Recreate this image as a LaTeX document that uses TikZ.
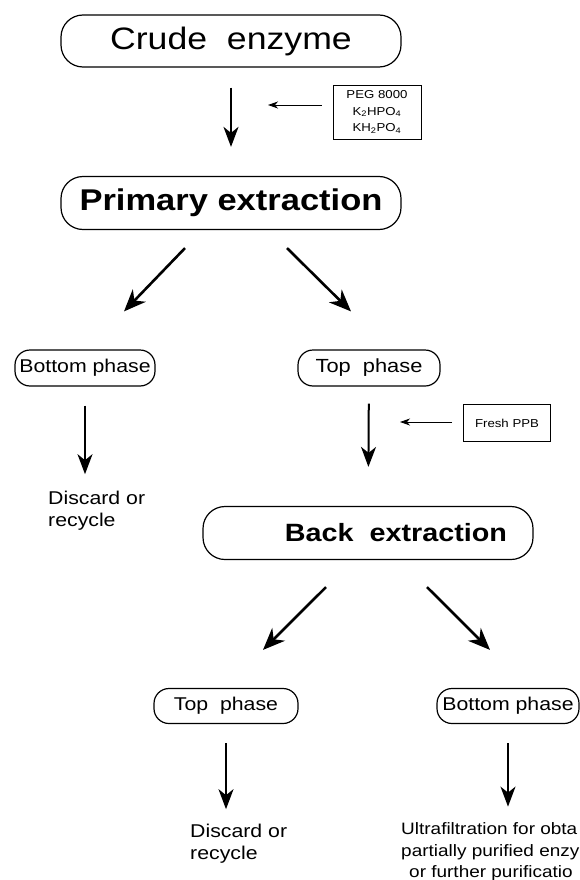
\documentclass[tikz,border=0pt]{standalone}
\usepackage{fontspec}
\setmainfont{Liberation Sans}
\newfontfamily\figfont[FakeStretch=1.15]{Liberation Sans}
\usetikzlibrary{arrows.meta}
\tikzset{
  pill/.style={draw, line width=1.2pt, rounded corners=#1, inner sep=0pt},
  addbox/.style={draw, line width=0.9pt, inner sep=0pt, align=center},
  note/.style={inner sep=0pt, align=left, anchor=west},
  bigarrow/.style={line width=2pt, -{Stealth[length=20pt,width=15pt,inset=6pt]}},
  diagarrow/.style={line width=2.6pt, -{Stealth[length=22pt,width=18pt,inset=7pt]}},
  thinarrow/.style={line width=0.9pt, -{Stealth[length=10pt,width=7pt,inset=3pt]}}
}

\begin{document}
\begin{tikzpicture}[x=1pt,y=-1pt]
	\useasboundingbox (0,0) rectangle (580,880);
	\clip (0,0) rectangle (580,880);

	\node[pill=22pt, minimum width=340pt, minimum height=52pt, font={\figfont\fontsize{31}{36}\selectfont}] (crude) at (231,41) {Crude\ \ enzyme};
	\node[pill=22pt, minimum width=340pt, minimum height=53pt, font={\figfont\bfseries\fontsize{30}{36}\selectfont}] (primary) at (231,203) {Primary extraction};
	\node[addbox, minimum width=88pt, minimum height=54pt, font={\figfont\fontsize{11.5}{16.5}\selectfont}] (peg) at (377,112) {PEG 8000\\K\textsubscript{2}HPO\textsubscript{4}\\KH\textsubscript{2}PO\textsubscript{4}};
	\coordinate (pegin) at (268,105);

	\node[pill=15pt, minimum width=140pt, minimum height=36pt, font={\figfont\fontsize{18.5}{22}\selectfont}] (bottomA) at (85,368) {Bottom phase};
	\node[pill=15pt, minimum width=142pt, minimum height=36pt, font={\figfont\fontsize{19}{22}\selectfont}] (topA) at (369,368) {Top\ \ phase};
	\node[addbox, minimum width=87pt, minimum height=37pt, font={\figfont\fontsize{11.5}{14}\selectfont}] (ppb) at (507,423) {Fresh PPB};
	\coordinate (ppbin) at (400,422);
	\node[note, font={\figfont\fontsize{18.5}{22}\selectfont}] (discardA) at (48,511) {Discard or\\recycle};

	\node[pill=22pt, minimum width=330pt, minimum height=53pt, font={\figfont\bfseries\fontsize{25}{30}\selectfont}] (back) at (368,533) {\hspace*{56pt}Back\ \ extraction};

	\node[pill=15pt, minimum width=144pt, minimum height=35pt, font={\figfont\fontsize{18.5}{22}\selectfont}] (topB) at (226,706) {Top\ \ phase};
	\node[pill=15pt, minimum width=142pt, minimum height=35pt, font={\figfont\fontsize{18.5}{22}\selectfont}] (bottomB) at (508,706) {Bottom phase};
	\node[note, font={\figfont\fontsize{18.5}{22}\selectfont}] (discardB) at (190,844) {Discard or\\recycle};
	\node[note, font={\figfont\fontsize{16.5}{21.5}\selectfont}] (ultra) at (401,852) {Ultrafiltration for obta\\partially purified enzy\\\hspace*{8pt}or further purificatio};

	\draw[bigarrow, shorten <=20pt, shorten >=29pt] (crude) -- (primary);
	\draw[thinarrow, shorten <=11pt] (peg.west |- pegin) -- (pegin);
	\draw[diagarrow] ([shift={(-46,18)}]primary.south) -- ([shift={(39,-38)}]bottomA.north);
	\draw[diagarrow] ([shift={(56,18)}]primary.south) -- ([shift={(-18,-38)}]topA.north);
	\draw[bigarrow, shorten <=19pt, shorten >=17pt] (bottomA.south) -- (bottomA.south |- discardA.north);
	\draw[bigarrow, shorten <=17pt, shorten >=39pt] (topA) -- (back);
	\draw[thinarrow, shorten <=11pt] (ppb.west |- ppbin) -- (ppbin);
	\draw[diagarrow] ([shift={(-42,27)}]back.south) -- ([shift={(37,-38)}]topB.north);
	\draw[diagarrow] ([shift={(59,27)}]back.south) -- ([shift={(-18,-38)}]bottomB.north);
	\draw[bigarrow, shorten <=19pt, shorten >=15pt] (topB.south) -- (topB.south |- discardB.north);
	\draw[bigarrow, shorten <=19pt, shorten >=16pt] (bottomB.south) -- (bottomB.south |- ultra.north);
\end{tikzpicture}
\end{document}
